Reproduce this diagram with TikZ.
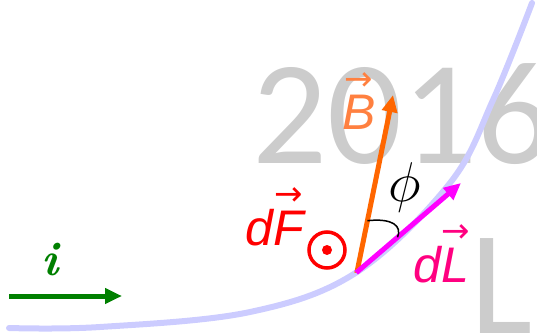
\RequirePackage{fix-cm}
\documentclass[tikz,border=0pt]{standalone}
\usepackage{amsmath}
\usepackage{fontspec}
\usetikzlibrary{arrows.meta, positioning, calc}
\newfontfamily\labelfont{Liberation Sans Italic}
\newfontfamily\arrowfont{DejaVu Sans}
\newfontfamily\markfont{Carlito}
\definecolor{wireblue}{RGB}{204,204,255}
\definecolor{idgreen}{RGB}{0,128,0}
\definecolor{bfield}{RGB}{255,102,0}
\definecolor{blabel}{RGB}{255,128,64}
\definecolor{dlpink}{RGB}{255,0,128}
\definecolor{dlarrow}{RGB}{255,0,255}
\newcommand{\vecsym}[1]{$\overset{\text{\arrowfont\fontsize{34}{34}\selectfont\char"2192}}{\text{#1}}$}
\tikzset{
    wire/.style={line width=6pt, wireblue, line cap=round},
    vecarrow/.style={line width=5pt, -{Triangle[length=17pt, width=15pt]}},
    biglabel/.style={font=\labelfont\fontsize{50}{50}\selectfont, inner sep=0pt, anchor=base west},
    watermark/.style={font=\markfont\fontsize{148}{148}\selectfont, text=gray!40, inner sep=0pt, anchor=base west},
}

\begin{document}
\begin{tikzpicture}[x=1pt, y=1pt, >=Stealth]
\useasboundingbox (0,0) rectangle (537,335);
\clip (0,0) rectangle (537,335);

% watermark text
\node[watermark] (year) at (252,172) {2016};
\node[watermark] (mark) at (470,2) {L};

% current-carrying wire
\draw[wire] plot[smooth, tension=0.6] coordinates {(9,7) (100,8) (250,23) (357,63) (450,152) (493,235) (532,332)};

% current direction
\coordinate (istart) at (9,39);
\coordinate (iend) at (122,39);
\draw[vecarrow, idgreen] (istart) -- (iend);
\node[text=idgreen, font=\fontsize{48}{48}\selectfont\bfseries\itshape] (ilabel) at (50,75) {i};

% element and field
\coordinate (p) at (357,63);
\coordinate (btip) at (393,240);
\coordinate (ltip) at (461,152);
\draw[vecarrow, bfield, shorten <=-1pt] (p) -- (btip);
\draw[vecarrow, dlarrow, shorten <=-1pt] (p) -- (ltip);

% angle between dL and B
\coordinate (aB) at ($(p)!0.29!(btip)$);
\coordinate (aL) at ($(p)!0.39!(ltip)$);
\draw[line width=1.5pt, black] (aB) .. controls (393,117) and (402,109) .. (aL);
\node[font=\fontsize{56}{56}\selectfont] (phi) at (405,148) {$\phi$};

% labels
\node[biglabel, text=blabel] (blbl) at (342,205) {\vecsym{B}};
\node[biglabel, text=red] (dflbl) at (245,90) {d\vecsym{F}};
\node[biglabel, text=dlpink] (dllbl) at (413,53) {d\vecsym{L}};

% force out of the page
\node[circle, draw=red, line width=3.5pt, minimum size=36pt, inner sep=0pt] (force) at (327,85) {};
\fill[red] (force.center) circle (5pt);

\end{tikzpicture}
\end{document}
